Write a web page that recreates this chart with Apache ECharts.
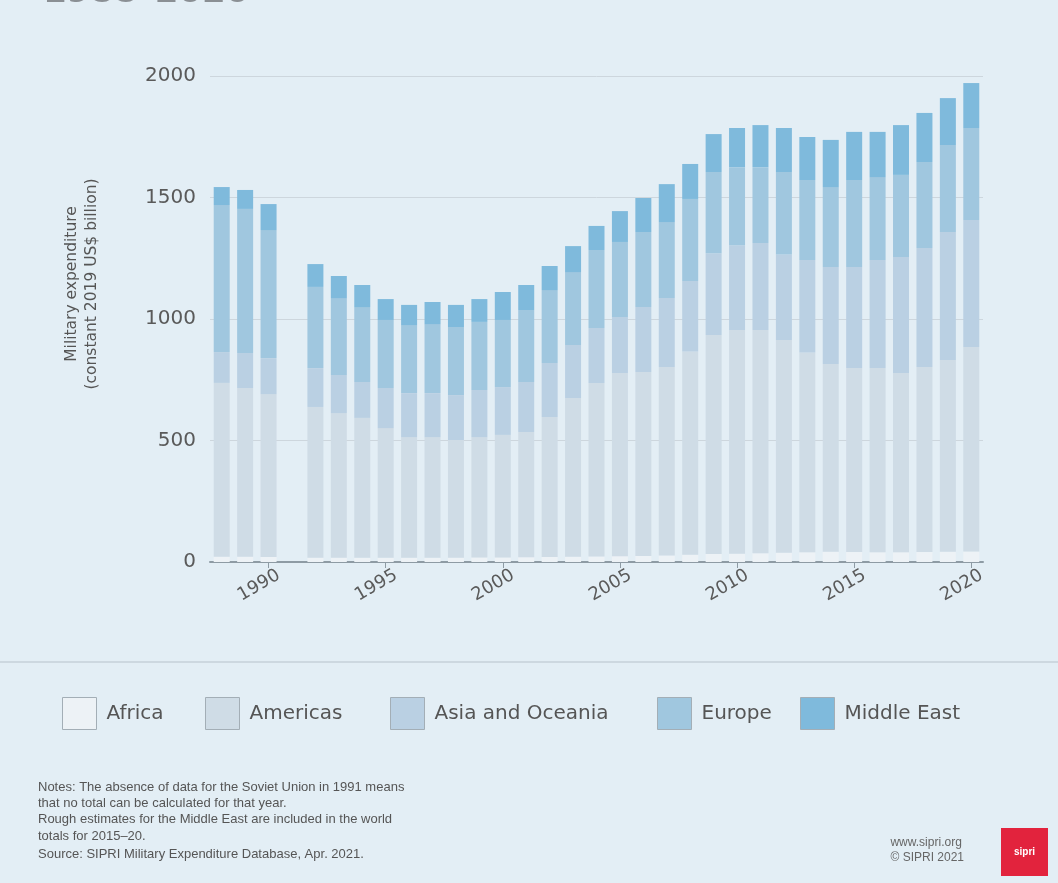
<!DOCTYPE html>
<html>
<head>
<meta charset="utf-8">
<script src="https://cdn.jsdelivr.net/npm/echarts@6/dist/echarts.min.js"></script>
<style>
  html, body { margin: 0; padding: 0; background: #e3eef5; }
  #chart { width: 1058px; height: 883px; }
</style>
</head>
<body>
<div id="chart"></div>
<script>
const years = ['1988','1989','1990','1991','1992','1993','1994','1995','1996','1997','1998','1999','2000','2001','2002','2003','2004','2005','2006','2007','2008','2009','2010','2011','2012','2013','2014','2015','2016','2017','2018','2019','2020'];
const africa      = [22, 22, 21, null, 18, 18, 17, 17, 17, 17, 18, 19, 19, 20, 21, 22, 23, 24, 25, 27, 30, 33, 34, 36, 38, 40, 42, 41, 40, 40, 41, 42, 43];
const americas    = [715, 694, 670, null, 620, 595, 576, 534, 497, 497, 484, 495, 504, 515, 576, 653, 714, 754, 757, 775, 836, 901, 921, 919, 876, 822, 773, 757, 758, 738, 761, 789, 842];
const asiaOceania = [127, 144, 148, null, 160, 157, 148, 165, 181, 181, 185, 194, 197, 206, 222, 218, 226, 230, 267, 284, 290, 337, 349, 358, 351, 381, 399, 416, 445, 477, 490, 527, 522];
const europe      = [605, 593, 527, null, 334, 316, 308, 280, 280, 284, 280, 280, 276, 296, 300, 300, 321, 309, 309, 313, 338, 334, 321, 312, 340, 329, 329, 358, 341, 338, 354, 358, 379];
const middleEast  = [74, 78, 107, null, 94, 91, 91, 86, 83, 91, 91, 94, 115, 103, 99, 107, 99, 127, 140, 156, 144, 156, 161, 173, 181, 177, 194, 198, 186, 205, 202, 193, 185];
const yTicks = [0, 500, 1000, 1500, 2000];
const seriesNames = ['Africa', 'Americas', 'Asia and Oceania', 'Europe', 'Middle East'];
const seriesColors = ['#edf2f6', '#cfdce6', '#bad0e3', '#a0c7df', '#7fbadc'];
const noteLines = [
  'Notes: The absence of data for the Soviet Union in 1991 means',
  'that no total can be calculated for that year.',
  'Rough estimates for the Middle East are included in the world',
  'totals for 2015–20.'
];
const sourceLine = 'Source: SIPRI Military Expenditure Database, Apr. 2021.';

const chart = echarts.init(document.getElementById('chart'), null, { renderer: 'canvas' });
const dataSets = [africa, americas, asiaOceania, europe, middleEast];
const showYear = (idx, val) => parseInt(val, 10) % 5 === 0;
const legendLefts = [62, 205, 390, 657, 800];

const option = {
  backgroundColor: '#e3eef5',
  animation: false,
  textStyle: { fontFamily: 'DejaVu Sans' },
  grid: { left: 210, right: 75, top: 76, bottom: 321, containLabel: false },
  legend: seriesNames.map((n, i) => ({
    data: [n],
    left: legendLefts[i],
    top: 697,
    padding: 0,
    icon: 'rect',
    itemWidth: 34,
    itemHeight: 32,
    itemStyle: { borderColor: '#a3aeb6', borderWidth: 1 },
    textStyle: { fontSize: 20, color: '#555', fontFamily: 'DejaVu Sans', padding: [0, 0, 0, 5] }
  })),
  xAxis: {
    type: 'category',
    data: years,
    boundaryGap: true,
    axisLine: { show: true, lineStyle: { color: '#8e9ba4', width: 2 } },
    axisTick: { show: true, alignWithLabel: true, interval: showYear, length: 6, lineStyle: { color: '#8e9ba4', width: 1 } },
    axisLabel: {
      interval: showYear,
      rotate: 30,
      align: 'center',
      verticalAlign: 'middle',
      padding: [0, 22, 0, 0],
      margin: 18,
      fontSize: 18,
      color: '#5a5a5a',
      fontFamily: 'DejaVu Sans'
    }
  },
  yAxis: {
    type: 'value',
    min: 0,
    max: 2000,
    interval: 500,
    axisLine: { show: false },
    axisTick: { show: false },
    axisLabel: {
      margin: 14,
      fontSize: 20,
      color: '#5a5a5a',
      fontFamily: 'DejaVu Sans',
      formatter: v => yTicks.includes(v) ? String(v) : ''
    },
    splitLine: { show: true, lineStyle: { color: '#cdd6dd', width: 1 } }
  },
  series: seriesNames.map((n, i) => ({
    name: n,
    type: 'bar',
    stack: 'total',
    barWidth: 16,
    data: dataSets[i],
    itemStyle: { color: seriesColors[i] },
    emphasis: { disabled: true }
  })),
  graphic: [
    {
      type: 'text', x: 43, y: 10, silent: true,
      style: { text: '1988–2020', fontSize: 34, fontWeight: 'bold', fill: '#8a8f94', fontFamily: 'DejaVu Sans', verticalAlign: 'bottom' }
    },
    {
      type: 'text', x: 82, y: 284, rotation: Math.PI / 2, silent: true,
      style: {
        text: 'Military expenditure\n(constant 2019 US$ billion)',
        fontSize: 15.5, lineHeight: 20, fill: '#555', fontFamily: 'DejaVu Sans',
        align: 'center', verticalAlign: 'middle'
      }
    },
    {
      type: 'line', silent: true,
      shape: { x1: 0, y1: 662, x2: 1058, y2: 662 },
      style: { stroke: '#cdd8e0', lineWidth: 2 }
    },
    {
      type: 'text', left: 38, top: 779, silent: true,
      style: { text: noteLines.join('\n'), fontSize: 13, lineHeight: 16.3, fill: '#555', fontFamily: 'Liberation Sans' }
    },
    {
      type: 'text', left: 38, top: 848, silent: true,
      style: { text: sourceLine, fontSize: 13, fill: '#555', fontFamily: 'Liberation Sans' }
    },
    {
      type: 'text', right: 94, top: 835, silent: true,
      style: { text: 'www.sipri.org\n© SIPRI 2021', fontSize: 12, lineHeight: 15, fill: '#666', align: 'right', fontFamily: 'Liberation Sans' }
    },
    {
      type: 'rect', silent: true,
      shape: { x: 1001, y: 828, width: 47, height: 48 },
      style: { fill: '#e2233d' }
    },
    {
      type: 'text', x: 1024.5, y: 852, silent: true,
      style: { text: 'sipri', fontSize: 10, fontWeight: 'bold', fill: '#ffffff', align: 'center', verticalAlign: 'middle', fontFamily: 'Liberation Sans' }
    }
  ]
};
chart.setOption(option);
</script>
</body>
</html>
